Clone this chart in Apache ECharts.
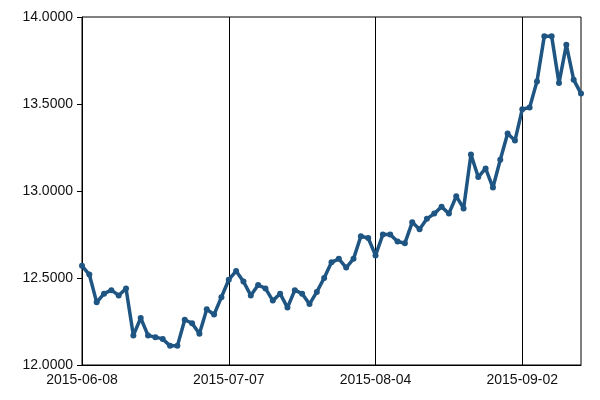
<!DOCTYPE html>
<html>
<head>
<meta charset="utf-8">
<script src="https://cdn.jsdelivr.net/npm/echarts@6/dist/echarts.min.js"></script>
<style>
    html, body { margin: 0; padding: 0; background: #fff; }
    #divChart { width: 600px; height: 400px; }
</style>
</head>
<body>
<div id="divChart"></div>
<script>
    // 日期（交易日）
    var dates = [
        '2015-06-08', '2015-06-09', '2015-06-10', '2015-06-11', '2015-06-12',
        '2015-06-15', '2015-06-16', '2015-06-17', '2015-06-18', '2015-06-19',
        '2015-06-22', '2015-06-23', '2015-06-24', '2015-06-25', '2015-06-26',
        '2015-06-29', '2015-06-30', '2015-07-01', '2015-07-02', '2015-07-06',
        '2015-07-07', '2015-07-08', '2015-07-09', '2015-07-10', '2015-07-13',
        '2015-07-14', '2015-07-15', '2015-07-16', '2015-07-17', '2015-07-20',
        '2015-07-21', '2015-07-22', '2015-07-23', '2015-07-24', '2015-07-27',
        '2015-07-28', '2015-07-29', '2015-07-30', '2015-07-31', '2015-08-03',
        '2015-08-04', '2015-08-05', '2015-08-06', '2015-08-07', '2015-08-10',
        '2015-08-11', '2015-08-12', '2015-08-13', '2015-08-14', '2015-08-17',
        '2015-08-18', '2015-08-19', '2015-08-20', '2015-08-21', '2015-08-24',
        '2015-08-25', '2015-08-26', '2015-08-27', '2015-08-28', '2015-09-01',
        '2015-09-02', '2015-09-03', '2015-09-04', '2015-09-08', '2015-09-09',
        '2015-09-10', '2015-09-11', '2015-09-14', '2015-09-15'
    ];
    var values = [
        12.57, 12.52, 12.36, 12.41, 12.43, 12.40, 12.44, 12.17, 12.27, 12.17,
        12.16, 12.15, 12.11, 12.11, 12.26, 12.24, 12.18, 12.32, 12.29, 12.39,
        12.49, 12.54, 12.48, 12.40, 12.46, 12.44, 12.37, 12.41, 12.33, 12.43,
        12.41, 12.35, 12.42, 12.50, 12.59, 12.61, 12.56, 12.61, 12.74, 12.73,
        12.63, 12.75, 12.75, 12.71, 12.70, 12.82, 12.78, 12.84, 12.87, 12.91,
        12.87, 12.97, 12.90, 13.21, 13.08, 13.13, 13.02, 13.18, 13.33, 13.29,
        13.47, 13.48, 13.63, 13.89, 13.89, 13.62, 13.84, 13.64, 13.56
    ];
    var yMin = 12, yMax = 14, yStep = 0.5;
    var lineColor = '#1f5582';

    var myChart = echarts.init(document.getElementById('divChart'), null, { renderer: 'canvas' });
    var option = {
        animation: false,
        backgroundColor: '#fff',
        textStyle: { fontFamily: 'Liberation Sans, Arial, sans-serif' },
        grid: {
            left: 82,
            right: 19,
            top: 17,
            bottom: 35,
            show: true,
            borderColor: '#000',
            borderWidth: 1
        },
        xAxis: {
            type: 'category',
            boundaryGap: false,
            data: dates,
            axisLine: { lineStyle: { color: '#000', width: 1 } },
            axisTick: { show: false },
            axisLabel: { interval: 19, color: '#111', fontSize: 14, margin: 8 },
            splitLine: { show: true, interval: 19, lineStyle: { color: '#000', width: 1 } }
        },
        yAxis: {
            type: 'value',
            min: yMin,
            max: yMax,
            interval: yStep,
            axisLine: { show: true, lineStyle: { color: '#000', width: 1 } },
            axisTick: { show: true, length: 5, lineStyle: { color: '#000' } },
            axisLabel: {
                color: '#111',
                fontSize: 14,
                margin: 9,
                formatter: function (v) { return v.toFixed(4); }
            },
            splitLine: { show: false }
        },
        series: [
            {
                type: 'line',
                data: values,
                symbol: 'circle',
                symbolSize: 6,
                showSymbol: true,
                showAllSymbol: true,
                lineStyle: { color: lineColor, width: 3.5 },
                itemStyle: { color: lineColor }
            }
        ]
    };
    myChart.setOption(option);
</script>
</body>
</html>
